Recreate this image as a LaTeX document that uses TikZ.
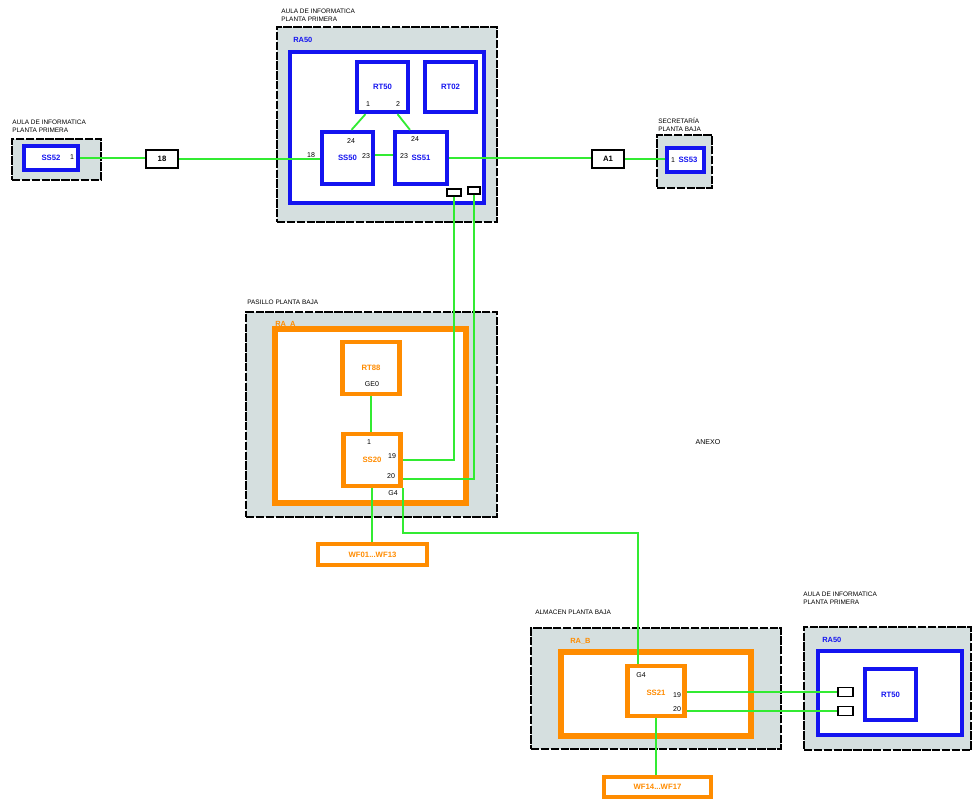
\documentclass[tikz,border=0pt]{standalone}
\usepackage{fontspec}
\setmainfont{Liberation Sans}
\usetikzlibrary{positioning, calc}
\definecolor{roomgray}{RGB}{213,223,223}
\definecolor{netblue}{RGB}{20,20,240}
\definecolor{netorange}{RGB}{255,140,0}
\definecolor{netgreen}{RGB}{50,235,50}
\tikzset{
  x=0.025cm, y=-0.025cm,
  sz/.style 2 args={minimum width=#1*0.025cm, minimum height=#2*0.025cm},
  room/.style={draw=black, fill=roomgray, line width=1.2pt,
    dash pattern=on 6pt off 1pt, inner sep=0pt},
  rablue/.style={draw=netblue, fill=white, line width=3.4pt, inner sep=0pt},
  devblue/.style={draw=netblue, fill=white, line width=3pt, inner sep=0pt,
    text=netblue, font=\bfseries\fontsize{5.5}{6}\selectfont},
  raorange/.style={draw=netorange, fill=white, line width=4pt, inner sep=0pt},
  devorange/.style={draw=netorange, fill=white, line width=3pt, inner sep=0pt,
    text=netorange, font=\bfseries\fontsize{5.5}{6}\selectfont},
  tag/.style={draw=black, fill=white, line width=1.8pt, inner sep=0pt,
    font=\bfseries\fontsize{5.5}{6}\selectfont},
  port/.style={draw=black, fill=white, line width=0.9pt, inner sep=0pt},
  num/.style={inner sep=0pt, font=\fontsize{5}{6}\selectfont},
  place/.style={inner sep=0pt, anchor=north west, align=left,
    font=\fontsize{4.6}{5.4}\selectfont},
  raname/.style={inner sep=0pt, anchor=west,
    font=\bfseries\fontsize{5.3}{6}\selectfont},
  link/.style={draw=netgreen, line width=1.3pt},
}

\begin{document}
\begin{tikzpicture}
  \useasboundingbox (0,0) rectangle (972,800);

  % rooms
  \node[room, sz={220}{195}] (roomA) at (387,124.5) {};
  \node[room, sz={89}{41}] (roomL) at (56.5,159.5) {};
  \node[room, sz={55}{53}] (roomS) at (684.5,161.5) {};
  \node[room, sz={251}{205}] (roomP) at (371.5,414.5) {};
  \node[room, sz={250}{121}] (roomB) at (656,688.5) {};
  \node[room, sz={167}{123}] (roomR) at (887.5,688.5) {};

  \node[place] (pA) at (281,9) {AULA DE INFORMATICA\\PLANTA PRIMERA};
  \node[place] (pL) at (12,120) {AULA DE INFORMATICA\\PLANTA PRIMERA};
  \node[place] (pS) at (658,118) {SECRETARÍA\\PLANTA BAJA};
  \node[place] (pP) at (247,300) {PASILLO PLANTA BAJA};
  \node[place] (pB) at (535,610) {ALMACEN PLANTA BAJA};
  \node[place] (pR) at (803,592) {AULA DE INFORMATICA\\PLANTA PRIMERA};
  \node[num] (anexo) at (708,442) {ANEXO};

  % racks
  \node[rablue, sz={194}{151}] (ra50) at (387,127.5) {};
  \node[raname, text=netblue] (nra50) at (293,40) {RA50};
  \node[raorange, sz={191}{174}] (raA) at (370.5,416) {};
  \node[raname, text=netorange] (nraA) at (275,324) {RA\_A};
  \node[raorange, sz={190}{84}] (raB) at (656,694) {};
  \node[raname, text=netorange] (nraB) at (570,641) {RA\_B};
  \node[rablue, sz={144}{84}] (ra50b) at (890,693) {};
  \node[raname, text=netblue] (nra50b) at (822,640) {RA50};

  % devices
  \node[devblue, sz={51}{50}] (rt50) at (382.5,87) {RT50};
  \node[devblue, sz={51}{50}] (rt02) at (450.5,87) {RT02};
  \node[devblue, sz={51}{52}] (ss50) at (347.5,158) {SS50};
  \node[devblue, sz={52}{52}] (ss51) at (421,158) {SS51};
  \node[devblue, sz={54}{24}] (ss52) at (51,158) {SS52};
  \node[devblue, sz={37}{24}] (ss53) at (685.5,160) {};
  \node[devblue, sz={51}{51}] (rt50b) at (890.5,694.5) {RT50};
  \node[devorange, sz={57}{52}] (rt88) at (371,368) {RT88};
  \node[devorange, sz={57}{52}] (ss20) at (372,460) {SS20};
  \node[devorange, sz={57}{50}] (ss21) at (656,691) {};
  \node[devorange, sz={109}{21}] (wf01) at (372.5,554.5) {WF01...WF13};
  \node[devorange, sz={107}{20}] (wf14) at (657.5,787) {WF14...WF17};

  \node[tag, sz={32}{18}] (t18) at (162,159) {18};
  \node[tag, sz={32}{18}] (ta1) at (608,159) {A1};

  \node[port, sz={14}{7}] (pa1) at (454,192.5) {};
  \node[port, sz={12}{7}] (pa2) at (474,190.5) {};
  \node[port, sz={15}{9}] (pb1) at (845.5,692) {};
  \node[port, sz={15}{9}] (pb2) at (845.5,711) {};

  % links
  \draw[link] ($(rt50.south)+(-17,0)$) -- ($(ss50.north)+(4,0)$);
  \draw[link] ($(rt50.south)+(15,0)$) -- ($(ss51.north)+(-11,0)$);
  \draw[link] ($(ss50.east)+(0,-3)$) -- ($(ss51.west)+(0,-3)$);
  \draw[link] (ss52.east) -- (ss52.east -| t18.west);
  \draw[link] (t18.east) -- (t18.east -| ss50.west);
  \draw[link] (ss51.east) -- (ss51.east -| ta1.west);
  \draw[link] (ta1.east) -- (ta1.east -| ss53.west);
  \draw[link] (pa1.south) |- (ss20.east);
  \draw[link] (pa2.south) |- ($(ss20.east)+(0,19)$);
  \draw[link] (rt88.south) -- (rt88.south |- ss20.north);
  \draw[link] (ss20.south) -- (ss20.south |- wf01.north);
  \draw[link] (ss20.south east) -- ++(0,45) -| ($(ss21.north)+(-18,0)$);
  \draw[link] (ss21.east |- pb1.west) -- (pb1.west);
  \draw[link] (ss21.east |- pb2.west) -- (pb2.west);
  \draw[link] (ss21.south) -- (ss21.south |- wf14.north);

  % port numbers
  \node[num] (n1) at (368,104) {1};
  \node[num] (n2) at (398,104) {2};
  \node[num] (n3) at (351,141) {24};
  \node[num] (n4) at (311,155) {18};
  \node[num] (n5) at (366,156) {23};
  \node[num] (n6) at (415,139) {24};
  \node[num] (n7) at (404,156) {23};
  \node[num] (n8) at (72,157) {1};
  \node[num] (n9) at (673,160) {1};
  \node[num, text=netblue, font=\bfseries\fontsize{5.5}{6}\selectfont] (n53) at (688,160) {SS53};
  \node[num] (n10) at (372,384) {GE0};
  \node[num] (n11) at (369,442) {1};
  \node[num] (n12) at (392,456) {19};
  \node[num] (n13) at (391,476) {20};
  \node[num] (n14) at (393,493) {G4};
  \node[num] (n15) at (641,675) {G4};
  \node[num, text=netorange, font=\bfseries\fontsize{5.5}{6}\selectfont] (n21) at (656,693) {SS21};
  \node[num] (n16) at (677,695) {19};
  \node[num] (n17) at (677,709) {20};
\end{tikzpicture}
\end{document}
